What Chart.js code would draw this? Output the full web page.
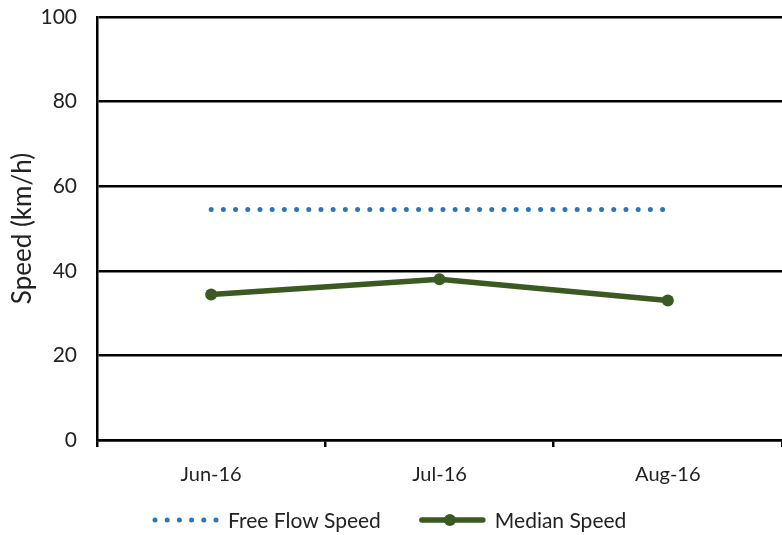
<!DOCTYPE html>
<html>
<head>
<meta charset="utf-8">
<title>Speed</title>
<script src="https://cdn.jsdelivr.net/npm/chart.js@4"></script>
<style>
  html, body { margin: 0; padding: 0; background: #fff; }
  #wrap { width: 782px; height: 535px; }
</style>
</head>
<body>
<div id="wrap"><canvas id="c" width="782" height="535"></canvas></div>
<script>
// Monthly speeds (km/h)
const months = ['Jun-16', 'Jul-16', 'Aug-16'];
const freeFlowSpeed = [54.5, 54.5, 54.5];
const medianSpeed = [34.4, 38.0, 33.0];
const yTickValues = [0, 20, 40, 60, 80, 100];

const BLUE = '#2E75B6';
const GREEN = '#3A5A22';
const TEXT = '#222222';
const FONT = 'Lato, "Open Sans", sans-serif';

Chart.defaults.font.family = FONT;
Chart.defaults.color = TEXT;

// Legend row under the axis: a dotted sample and a line-with-marker sample
const bottomLegend = {
  id: 'bottomLegend',
  afterDraw(chart) {
    const ctx = chart.ctx;
    const y = 520;
    let x = 152;
    ctx.save();
    ctx.font = '21px ' + FONT;
    ctx.textBaseline = 'middle';
    ctx.textAlign = 'left';
    chart.data.datasets.forEach((ds, i) => {
      if (i > 0) x += 38;
      if (ds.borderDash && ds.borderDash.length) {
        ctx.fillStyle = ds.borderColor;
        for (let k = 0; k < 6; k++) {
          ctx.beginPath();
          ctx.arc(x + 3 + k * 12.2, y, 2.5, 0, Math.PI * 2);
          ctx.fill();
        }
      } else {
        ctx.strokeStyle = ds.borderColor;
        ctx.lineWidth = ds.borderWidth;
        ctx.lineCap = 'round';
        ctx.beginPath();
        ctx.moveTo(x + 3, y);
        ctx.lineTo(x + 64, y);
        ctx.stroke();
        ctx.fillStyle = ds.borderColor;
        ctx.beginPath();
        ctx.arc(x + 31, y, ds.pointRadius, 0, Math.PI * 2);
        ctx.fill();
      }
      x += 67 + 9;
      ctx.fillStyle = TEXT;
      ctx.fillText(ds.label, x, y + 1);
      x += ctx.measureText(ds.label).width;
    });
    ctx.restore();
  }
};

new Chart(document.getElementById('c'), {
  type: 'line',
  data: {
    labels: months,
    datasets: [
      {
        label: 'Free Flow Speed',
        data: freeFlowSpeed,
        borderColor: BLUE,
        backgroundColor: BLUE,
        borderWidth: 5,
        borderDash: [0, 12.2],
        borderCapStyle: 'round',
        pointRadius: 0,
        fill: false,
        tension: 0
      },
      {
        label: 'Median Speed',
        data: medianSpeed,
        borderColor: GREEN,
        backgroundColor: GREEN,
        borderWidth: 5.5,
        pointRadius: 6,
        pointBorderWidth: 0,
        pointBackgroundColor: GREEN,
        fill: false,
        tension: 0
      }
    ]
  },
  plugins: [bottomLegend],
  options: {
    responsive: false,
    animation: false,
    events: [],
    layout: { autoPadding: false, padding: { top: 17, right: -5, left: 0, bottom: 0 } },
    plugins: {
      tooltip: { enabled: false },
      legend: { display: false }
    },
    scales: {
      x: {
        offset: true,
        grid: {
          display: true,
          offset: true,
          drawOnChartArea: false,
          drawTicks: true,
          tickLength: 7,
          color: '#000',
          lineWidth: 2.5
        },
        border: { display: true, color: '#000', width: 2.5 },
        ticks: { font: { size: 20 }, color: TEXT, padding: 16, maxRotation: 0 },
        afterFit: (s) => { s.height = 95; s.paddingLeft = 0; s.paddingRight = 0; }
      },
      y: {
        min: 0,
        max: 100,
        afterBuildTicks: (s) => { s.ticks = yTickValues.map(v => ({ value: v })); },
        grid: { color: '#000', lineWidth: 2.5, drawTicks: false },
        border: { display: true, color: '#000', width: 2.5 },
        ticks: { font: { size: 21 }, color: TEXT, padding: 20 },
        title: {
          display: true,
          text: 'Speed (km/h)',
          font: { size: 26 },
          color: TEXT,
          padding: { top: 7, bottom: 0 }
        },
        afterFit: (s) => { s.width = 97; s.paddingTop = 0; s.paddingBottom = 0; }
      }
    }
  }
});
</script>
</body>
</html>
